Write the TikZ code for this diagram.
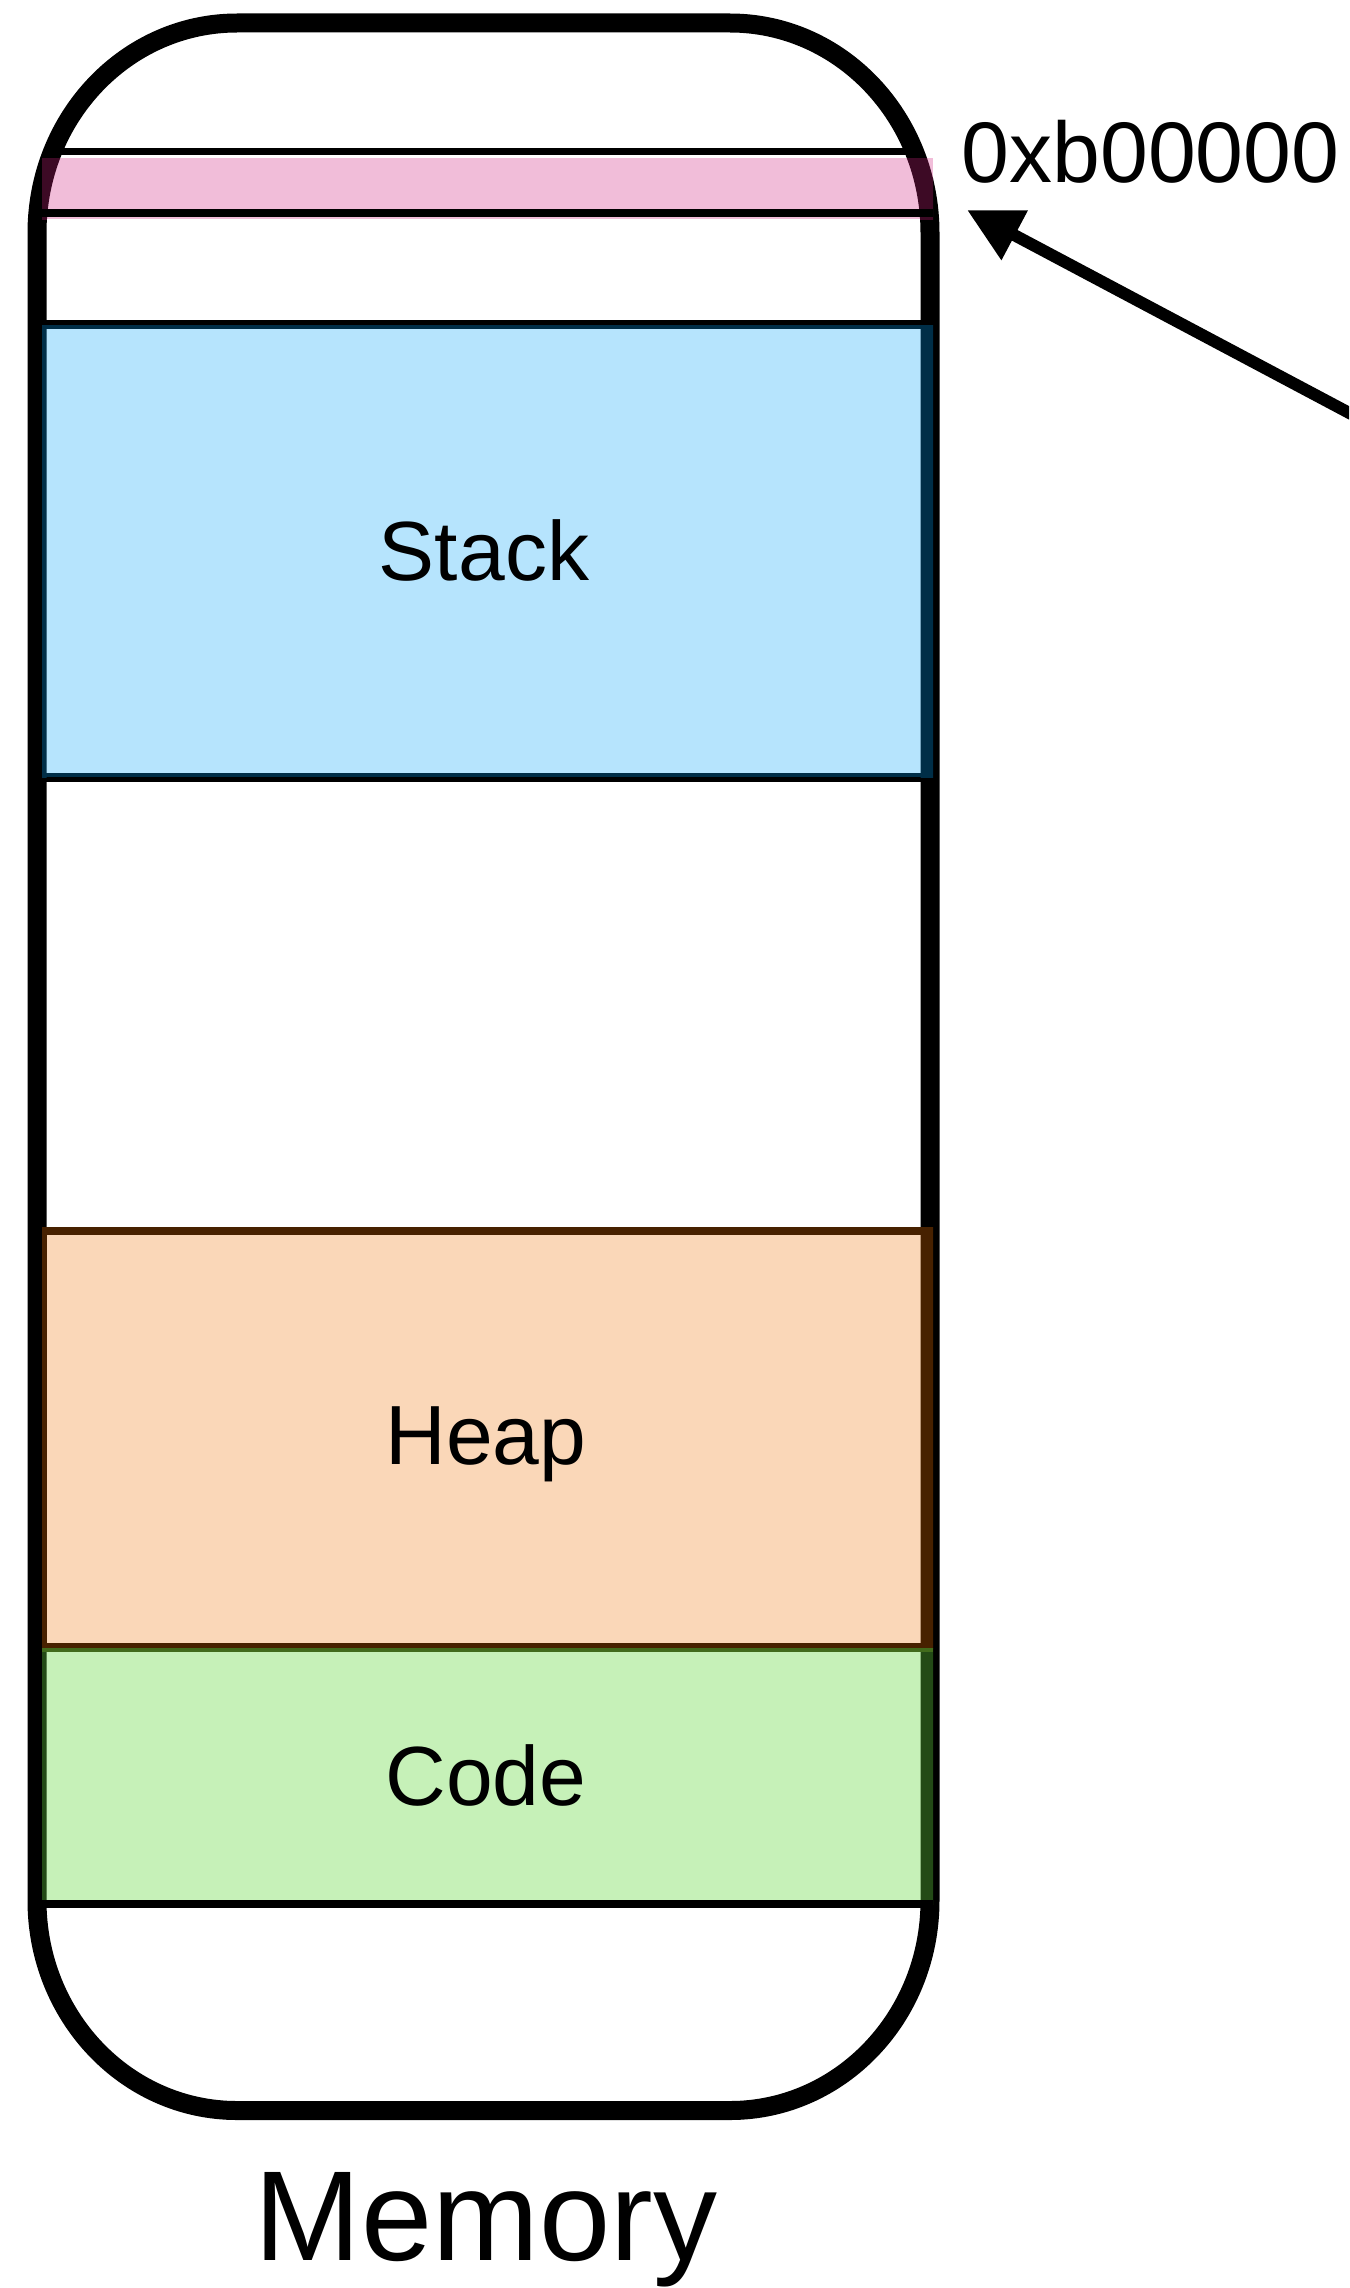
\documentclass[tikz,border=0pt]{standalone}
\usepackage{fontspec}
\setmainfont{Liberation Sans}
\usetikzlibrary{arrows.meta}

% region colours: light fill and the dark tint seen where the region covers the outline
\definecolor{pinkfill}{HTML}{F1BDD9}
\definecolor{pinktint}{HTML}{3D0A25}
\definecolor{stackfill}{HTML}{B6E4FD}
\definecolor{stacktint}{HTML}{002E47}
\definecolor{heapfill}{HTML}{FAD7B8}
\definecolor{heaptint}{HTML}{472100}
\definecolor{codefill}{HTML}{C6F1B8}
\definecolor{codetint}{HTML}{234A16}
\definecolor{codeedge}{HTML}{416B1C}

% rounded outline of the memory block (elliptic corners)
\newcommand{\memoutlinepath}{
  (237,23) -- (730,23)
  .. controls (840.5,23) and (930,117) .. (930,233)
  -- (930,1900.5)
  .. controls (930,2016.5) and (840.5,2110.5) .. (730,2110.5)
  -- (237,2110.5)
  .. controls (126.5,2110.5) and (37,2016.5) .. (37,1900.5)
  -- (37,233)
  .. controls (37,117) and (126.5,23) .. (237,23) -- cycle}

\tikzset{
  outline/.style={line width=19pt, line join=round},
  divider/.style={draw=black},
  label/.style={anchor=base, inner sep=0pt, font=\fontsize{84pt}{100pt}\selectfont},
  ptr/.style={line width=12pt, -{Triangle[length=54pt, width=53pt]}},
}

\begin{document}
\begin{tikzpicture}[x=1pt, y=-1pt]
\useasboundingbox (0,0) rectangle (1349,2288);
\clip (0,0) rectangle (1349,2288);
\fill[white] (0,0) rectangle (1349,2288);

% dividers lying under the outline
\draw[divider, line width=7pt] (56,151.5) -- (911,151.5);
\draw[divider, line width=5pt] (37,322.5) -- (930,322.5);
\draw[divider, line width=5pt] (37,779.5) -- (930,779.5);

% memory outline
\draw[outline] \memoutlinepath;

% top band
\fill[pinkfill] (42,158) rectangle (933,219);
\begin{scope}
  \clip (42,158) rectangle (933,219);
  \draw[outline, pinktint] \memoutlinepath;
\end{scope}

% stack region
\fill[stackfill] (42,325) rectangle (933,777);
\begin{scope}
  \clip (42,325) rectangle (933,777);
  \draw[outline, stacktint] \memoutlinepath;
\end{scope}
\draw[stacktint, line width=4pt] (44,327) rectangle (931,775);

% heap region
\fill[heapfill] (42,1227) rectangle (933,1648);
\begin{scope}
  \clip (42,1227) rectangle (933,1648);
  \draw[outline, heaptint] \memoutlinepath;
\end{scope}
\draw[heaptint, line width=5pt] (44.5,1229.5) rectangle (930.5,1645.5);
\fill[heaptint] (42,1227) rectangle (933,1235);

% code region
\fill[codefill] (42,1648) rectangle (933,1904);
\begin{scope}
  \clip (42,1648) rectangle (933,1904);
  \draw[outline, codetint] \memoutlinepath;
\end{scope}
\fill[codeedge] (42,1648) rectangle (933,1652);

% dividers drawn over the regions
\draw[divider, line width=8pt] (42,213) -- (933,213);
\draw[divider, line width=8pt] (42,1904) -- (933,1904);

% labels
\node[label] (stack) at (484,580) {Stack};
\node[label] (heap) at (486,1464) {Heap};
\node[label] (code) at (486,1805) {Code};
\node[anchor=base, inner sep=0pt, font=\fontsize{128pt}{150pt}\selectfont] (memory) at (486,2260) {Memory};
\node[anchor=base west, inner sep=0pt, font=\fontsize{86pt}{100pt}\selectfont] (addr) at (961.5,182) {0xb00000};

% pointer arrow
\coordinate (ptrtail) at (1500,493);
\coordinate (ptrhead) at (967,210);
\draw[ptr] (ptrtail) -- (ptrhead);
\end{tikzpicture}
\end{document}
